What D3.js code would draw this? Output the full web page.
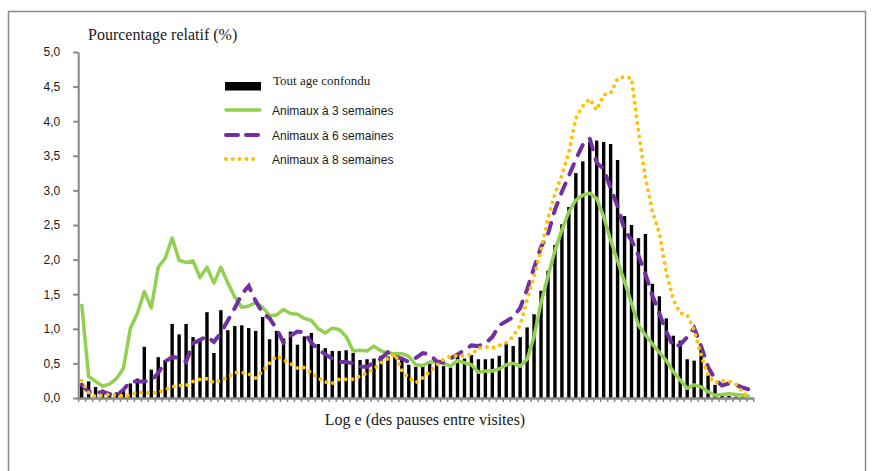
<!DOCTYPE html>
<html>
<head>
<meta charset="utf-8">
<script src="https://cdn.jsdelivr.net/npm/d3@7/dist/d3.min.js"></script>
<style>
	body { margin: 0; background: #fff; }
	svg { display: block; }
</style>
</head>
<body>
<svg id="chart" width="874" height="471"></svg>
<script>
// one category per class of log e(pause) -- no labels on the axis
var categories = d3.range(1, 98);

// "Tout age confondu" (bars)
var allAges = [
	0.21, 0.24, 0.16, 0.12, 0.05, 0.08, 0.10, 0.21, 0.28, 0.74,
	0.41, 0.59, 0.55, 1.07, 0.92, 1.07, 0.88, 0.84, 1.24, 0.65,
	1.27, 0.98, 1.04, 1.05, 1.01, 0.97, 1.17, 0.85, 0.97, 0.86,
	0.96, 0.77, 0.89, 0.94, 0.78, 0.72, 0.68, 0.68, 0.69, 0.65,
	0.55, 0.56, 0.57, 0.61, 0.60, 0.59, 0.55, 0.48, 0.45, 0.48,
	0.50, 0.53, 0.46, 0.44, 0.62, 0.57, 0.62, 0.56, 0.56, 0.57,
	0.61, 0.79, 0.75, 0.88, 1.02, 1.21, 1.55, 1.84, 2.21, 2.51,
	2.76, 3.25, 3.42, 3.70, 3.72, 3.70, 3.67, 3.44, 2.63, 2.50,
	2.31, 2.37, 1.65, 1.47, 1.15, 0.90, 0.83, 0.56, 0.54, 0.75,
	0.33, 0.19, 0.05, 0.03, 0.02, 0.01, 0.00
];

// "Animaux à 3 semaines"
var weeks3 = [
	1.36, 0.31, 0.24, 0.17, 0.20, 0.28, 0.43, 1.01, 1.22, 1.54,
	1.30, 1.89, 2.02, 2.31, 1.99, 1.96, 1.98, 1.74, 1.89, 1.66,
	1.89, 1.66, 1.46, 1.31, 1.33, 1.38, 1.31, 1.19, 1.20, 1.28,
	1.22, 1.21, 1.15, 1.12, 1.00, 0.94, 1.01, 0.99, 0.89, 0.68,
	0.69, 0.68, 0.75, 0.68, 0.65, 0.64, 0.64, 0.60, 0.48, 0.47,
	0.52, 0.52, 0.50, 0.46, 0.54, 0.51, 0.48, 0.37, 0.39, 0.39,
	0.42, 0.48, 0.50, 0.46, 0.56, 0.89, 1.38, 1.76, 2.13, 2.43,
	2.69, 2.86, 2.93, 2.96, 2.88, 2.62, 2.28, 1.98, 1.68, 1.37,
	1.05, 0.91, 0.78, 0.66, 0.54, 0.38, 0.26, 0.14, 0.19, 0.16,
	0.09, 0.04, 0.05, 0.06, 0.05, 0.04, 0.02
];

// "Animaux à 6 semaines"
var weeks6 = [
	0.19, 0.09, 0.07, 0.09, 0.06, 0.03, 0.12, 0.24, 0.24, 0.24,
	0.25, 0.36, 0.53, 0.59, 0.58, 0.52, 0.79, 0.84, 0.89, 0.81,
	0.94, 1.12, 1.30, 1.50, 1.62, 1.40, 1.23, 1.15, 1.00, 0.80,
	0.90, 0.96, 0.95, 0.80, 0.70, 0.63, 0.57, 0.52, 0.52, 0.50,
	0.45, 0.45, 0.51, 0.57, 0.66, 0.60, 0.57, 0.52, 0.58, 0.65,
	0.63, 0.53, 0.51, 0.57, 0.63, 0.69, 0.76, 0.75, 0.79, 0.88,
	1.05, 1.11, 1.17, 1.30, 1.57, 1.88, 2.18, 2.37, 2.72, 2.98,
	3.21, 3.45, 3.66, 3.75, 3.40, 3.31, 3.03, 2.77, 2.43, 2.28,
	2.06, 1.79, 1.48, 1.22, 0.96, 0.74, 0.77, 0.88, 1.01, 0.75,
	0.45, 0.27, 0.18, 0.21, 0.19, 0.15, 0.12
];

// "Animaux à 8 semaines"
var weeks8 = [
	0.25, 0.08, 0.02, 0.04, 0.05, 0.04, 0.03, 0.04, 0.08, 0.08,
	0.07, 0.08, 0.12, 0.16, 0.18, 0.18, 0.24, 0.27, 0.28, 0.22,
	0.26, 0.30, 0.37, 0.37, 0.35, 0.29, 0.39, 0.50, 0.61, 0.55,
	0.50, 0.43, 0.44, 0.36, 0.29, 0.23, 0.21, 0.27, 0.27, 0.27,
	0.32, 0.36, 0.42, 0.51, 0.57, 0.64, 0.40, 0.29, 0.22, 0.29,
	0.38, 0.47, 0.56, 0.60, 0.61, 0.61, 0.63, 0.72, 0.74, 0.72,
	0.76, 0.80, 0.89, 1.05, 1.42, 1.76, 2.13, 2.60, 2.95, 3.22,
	3.55, 4.04, 4.22, 4.32, 4.16, 4.38, 4.40, 4.62, 4.64, 4.62,
	3.85, 3.18, 2.70, 2.38, 1.82, 1.42, 1.23, 1.20, 0.98, 0.62,
	0.32, 0.22, 0.25, 0.24, 0.20, 0.08, 0.01
];

var yTicks = [0, 0.5, 1, 1.5, 2, 2.5, 3, 3.5, 4, 4.5, 5];

var legendLabels = ["Tout age confondu", "Animaux à 3 semaines", "Animaux à 6 semaines", "Animaux à 8 semaines"];

var colors = {
	bar: "#000000",
	w3: "#92d050",
	w6: "#7030a0",
	w8: "#ffc000",
	axis: "#868686",
	frame: "#8a8a8a",
	text: "#1a1a1a"
};

var plot = { left: 78.2, right: 753.3, top: 52, bottom: 398 };
var serif = "'Liberation Serif', 'DejaVu Serif', serif";
var sans = "'Liberation Sans', Arial, sans-serif";

var svg = d3.select("#chart");

// outer frame (bottom edge runs off the picture)
svg.append("rect")
	.attr("x", 8.5).attr("y", 11.5)
	.attr("width", 857).attr("height", 480)
	.attr("fill", "none")
	.attr("stroke", colors.frame)
	.attr("stroke-width", 1.5);

var x = d3.scaleBand().domain(categories).range([plot.left, plot.right]);
var y = d3.scaleLinear().domain([0, 5]).range([plot.bottom, plot.top]);
var xEdge = d3.scaleLinear().domain([0, categories.length]).range([plot.left, plot.right]);
var cx = function(i) { return x(categories[i]) + x.bandwidth() / 2; };

// bars
var barW = 3.4;
svg.append("g").selectAll("rect")
	.data(allAges)
	.enter().append("rect")
	.attr("x", function(d, i) { return cx(i) - barW / 2; })
	.attr("y", function(d) { return y(d); })
	.attr("width", barW)
	.attr("height", function(d) { return y(0) - y(d); })
	.attr("fill", colors.bar);

// y axis
var yAxis = d3.axisLeft(y)
	.tickValues(yTicks)
	.tickSize(5)
	.tickSizeOuter(0)
	.tickPadding(13)
	.tickFormat(function(d) { return d3.format(".1f")(d).replace(".", ","); });

var yG = svg.append("g").attr("transform", "translate(" + plot.left + ",0)").call(yAxis);
yG.select(".domain").attr("stroke", colors.axis).attr("stroke-width", 2);
yG.selectAll(".tick line").attr("stroke", colors.axis).attr("stroke-width", 2);
yG.selectAll(".tick text")
	.attr("fill", colors.text)
	.style("font-family", sans)
	.style("font-size", "12px");

// x axis: tick marks between categories, no labels
var xAxis = d3.axisBottom(xEdge)
	.tickValues(d3.range(0, categories.length + 1))
	.tickSize(4)
	.tickSizeOuter(0)
	.tickFormat("");

var xG = svg.append("g").attr("transform", "translate(0," + plot.bottom + ")").call(xAxis);
xG.select(".domain").attr("stroke", colors.axis).attr("stroke-width", 2.5);
xG.selectAll(".tick line").attr("stroke", colors.axis).attr("stroke-width", 1.5);

// series lines
var line = d3.line()
	.x(function(d, i) { return cx(i); })
	.y(function(d) { return y(d); });

svg.append("path").datum(weeks3)
	.attr("d", line)
	.attr("fill", "none")
	.attr("stroke", colors.w3)
	.attr("stroke-width", 3.5)
	.attr("stroke-linejoin", "round");

svg.append("path").datum(weeks6)
	.attr("d", line)
	.attr("fill", "none")
	.attr("stroke", colors.w6)
	.attr("stroke-width", 4)
	.attr("stroke-linecap", "round")
	.attr("stroke-dasharray", "11,10");

svg.append("path").datum(weeks8)
	.attr("d", line)
	.attr("fill", "none")
	.attr("stroke", colors.w8)
	.attr("stroke-width", 4)
	.attr("stroke-linecap", "round")
	.attr("stroke-dasharray", "0,6.8");

// axis titles
svg.append("text")
	.attr("x", 88).attr("y", 40)
	.attr("fill", colors.text)
	.style("font-family", serif)
	.style("font-size", "16px")
	.text("Pourcentage relatif (%)");

svg.append("text")
	.attr("x", 425).attr("y", 425)
	.attr("text-anchor", "middle")
	.attr("fill", colors.text)
	.style("font-family", serif)
	.style("font-size", "16px")
	.text("Log e (des pauses entre visites)");

// legend
var legend = svg.append("g").attr("transform", "translate(225,0)");
var rowY = [86, 110, 135, 159];

legend.append("rect")
	.attr("x", 0).attr("y", rowY[0] - 4)
	.attr("width", 36).attr("height", 8.5)
	.attr("fill", colors.bar);

legend.append("line")
	.attr("x1", 1).attr("x2", 35).attr("y1", rowY[1]).attr("y2", rowY[1])
	.attr("stroke", colors.w3).attr("stroke-width", 3.5).attr("stroke-linecap", "round");

legend.append("line")
	.attr("x1", 1).attr("x2", 35).attr("y1", rowY[2]).attr("y2", rowY[2])
	.attr("stroke", colors.w6).attr("stroke-width", 4).attr("stroke-linecap", "round")
	.attr("stroke-dasharray", "12,8");

legend.append("line")
	.attr("x1", 1).attr("x2", 35).attr("y1", rowY[3]).attr("y2", rowY[3])
	.attr("stroke", colors.w8).attr("stroke-width", 4).attr("stroke-linecap", "round")
	.attr("stroke-dasharray", "0,6.8");

legend.selectAll("text.lbl")
	.data(legendLabels)
	.enter().append("text")
	.attr("class", "lbl")
	.attr("x", function(d, i) { return i === 0 ? 48 : 47; })
	.attr("y", function(d, i) { return i === 0 ? rowY[i] - 1 : rowY[i] + 5; })
	.attr("fill", colors.text)
	.style("font-family", function(d, i) { return i === 0 ? serif : sans; })
	.style("font-size", function(d, i) { return i === 0 ? "13px" : "12px"; })
	.text(function(d) { return d; });
</script>
</body>
</html>
